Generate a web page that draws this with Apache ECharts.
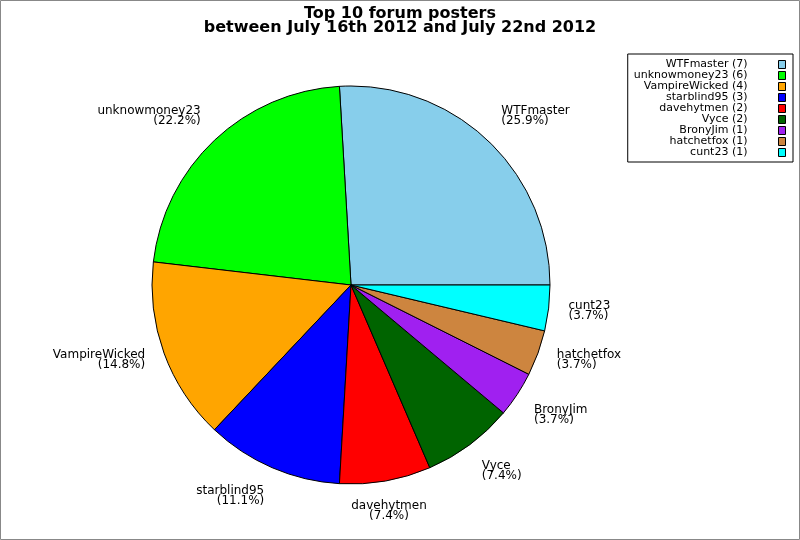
<!DOCTYPE html>
<html>
<head>
<meta charset="utf-8">
<script src="https://cdn.jsdelivr.net/npm/echarts@6/dist/echarts.min.js"></script>
<style>
html,body{margin:0;padding:0;background:#fff;}
#chart{width:800px;height:540px;}
</style>
</head>
<body>
<div id="chart"></div>
<script>
const titleLines = ['Top 10 forum posters', 'between July 16th 2012 and July 22nd 2012'];
const names = ['WTFmaster', 'unknowmoney23', 'VampireWicked', 'starblind95', 'davehytmen', 'Vyce', 'BronyJim', 'hatchetfox', 'cunt23'];
const posts = [7, 6, 4, 3, 2, 2, 1, 1, 1];
const colors = ['#87CEEB', '#00FF00', '#FFA500', '#0000FF', '#FF0000', '#006400', '#A020F0', '#CD853F', '#00FFFF'];

const total = posts.reduce((a, b) => a + b, 0);
const FONT = 'DejaVu Sans';

// mid-angle direction of each slice (counter-clockwise from 3 o'clock)
const mids = [];
let acc = 0;
posts.forEach(v => { mids.push((acc + v / 2) / total * 2 * Math.PI); acc += v; });

const chart = echarts.init(document.getElementById('chart'), null, {renderer: 'canvas'});
chart.setOption({
  animation: false,
  backgroundColor: '#fff',
  graphic: [{
    type: 'rect', silent: true, z: -1,
    shape: {x: 0.5, y: 0.5, width: 799, height: 539},
    style: {fill: 'none', stroke: '#888', lineWidth: 1}
  }],
  title: {
    text: titleLines.join('\n'),
    left: 'center', top: 2,
    textStyle: {fontFamily: FONT, fontSize: 16, fontWeight: 'bold', color: '#000', lineHeight: 14}
  },
  legend: {
    orient: 'vertical',
    right: 7, top: 54,
    align: 'right',
    icon: 'rect',
    itemWidth: 7, itemHeight: 8, itemGap: 0,
    padding: [5, 7, 4, 6],
    borderColor: '#000', borderWidth: 1,
    itemStyle: {borderColor: '#000', borderWidth: 1},
    textStyle: {fontFamily: FONT, fontSize: 11, color: '#000', lineHeight: 11, padding: [0, 26, 0, 0]},
    formatter: n => n + ' (' + posts[names.indexOf(n)] + ')',
    data: names
  },
  series: [{
    type: 'pie',
    center: [351, 285],
    radius: 199,
    startAngle: 0,
    clockwise: false,
    avoidLabelOverlap: false,
    silent: true,
    itemStyle: {borderColor: '#000', borderWidth: 1},
    label: {
      show: true,
      position: 'outside',
      distanceToLabelLine: 0,
      fontFamily: FONT, fontSize: 12, color: '#000', lineHeight: 10,
      formatter: p => p.name + '\n(' + (p.value / total * 100).toFixed(1) + '%)'
    },
    labelLine: {show: false, length: 20, length2: 0},
    labelLayout: function (p) {
      const a = mids[p.dataIndex];
      const c = Math.cos(a), s = Math.sin(a);
      const o = {};
      if (Math.abs(c) < 0.3) o.align = 'center';
      if (s > 0.45) o.verticalAlign = 'bottom';
      else if (s < -0.45) o.verticalAlign = 'top';
      return o;
    },
    data: names.map((n, i) => ({name: n, value: posts[i], itemStyle: {color: colors[i]}}))
  }]
});
</script>
</body>
</html>
